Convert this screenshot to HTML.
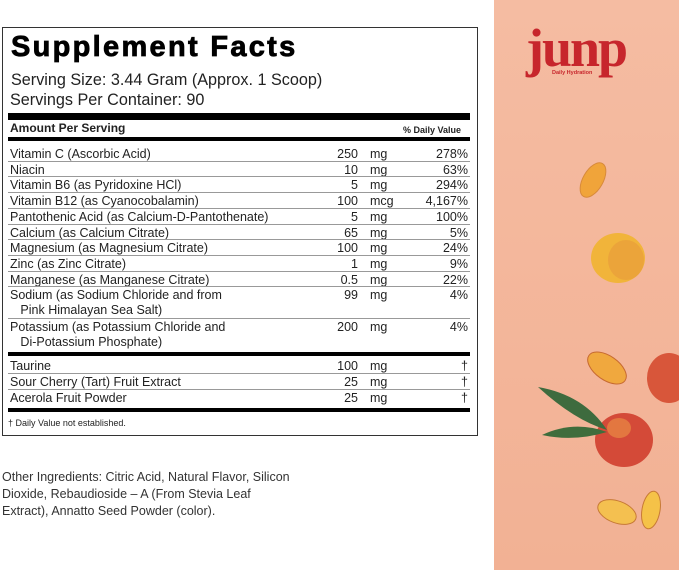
<!DOCTYPE html>
<html><head><style>
body{margin:0;width:679px;height:570px;background:#fff;position:relative;overflow:hidden;font-family:"Liberation Sans",Arial,sans-serif;color:#222}
.a{position:absolute;white-space:nowrap}
.box{position:absolute;left:2px;top:27px;width:474px;height:407px;border:1.5px solid #333}
.bar{position:absolute;left:8px;width:462px;background:#000}
.ln{position:absolute;left:8px;width:462px;height:1px;background:#999}
.r{font-size:12.5px;line-height:15px}
.n{position:absolute;top:0;left:300px;width:48px;text-align:right}
.u{position:absolute;top:0;left:360px}
.p{position:absolute;top:0;right:12px;text-align:right}
</style></head><body>
<div class="box"></div>
<div class="a" style="left:11px;top:31px;font-size:29px;font-weight:900;letter-spacing:2.3px;color:#000;-webkit-text-stroke:0.8px #000">Supplement Facts</div>
<div class="a" style="left:11px;top:71px;font-size:16.2px">Serving Size: 3.44 Gram (Approx. 1 Scoop)</div>
<div class="a" style="left:10px;top:91px;font-size:16.2px">Servings Per Container: 90</div>
<div class="bar" style="top:113px;height:7px"></div>
<div class="a" style="left:10px;top:121px;font-size:12px;font-weight:bold">Amount Per Serving</div>
<div class="a" style="left:403px;top:125px;font-size:9px;font-weight:bold">% Daily Value</div>
<div class="bar" style="top:137px;height:4px"></div>
<div id="rows"></div>
<div class="bar" style="top:352px;height:4px"></div>
<div class="bar" style="top:408px;height:4px"></div>
<div class="a" style="left:8px;top:418px;font-size:9px">† Daily Value not established.</div>
<div class="a" style="left:2px;top:469px;font-size:12.5px;line-height:17px;color:#333">Other Ingredients: Citric Acid, Natural Flavor, Silicon<br>Dioxide, Rebaudioside – A (From Stevia Leaf<br>Extract), Annatto Seed Powder (color).</div>
<svg class="a" style="left:494px;top:0" width="185" height="570">
<defs><linearGradient id="g" x1="0" y1="0" x2="0" y2="1"><stop offset="0" stop-color="#f5bca2"/><stop offset="1" stop-color="#f2b194"/></linearGradient></defs>
<rect width="185" height="570" fill="url(#g)"/>
<text x="32" y="66" font-family="Liberation Serif,serif" font-weight="bold" font-size="54" fill="#c7262c" letter-spacing="-2">junp</text>
<text x="58" y="74" font-family="Liberation Sans,sans-serif" font-weight="bold" font-size="5.5" fill="#c7262c">Daily Hydration</text>
<ellipse cx="99" cy="180" rx="10" ry="19" transform="rotate(30 99 180)" fill="#f0a43a" stroke="#d88a3a"/>
<ellipse cx="124" cy="258" rx="27" ry="25" fill="#f1b43a"/>
<ellipse cx="132" cy="260" rx="18" ry="20" fill="#e79a3a" opacity="0.6"/>
<ellipse cx="113" cy="368" rx="12" ry="22" transform="rotate(-55 113 368)" fill="#f0a83e" stroke="#c76a30"/>
<ellipse cx="175" cy="378" rx="22" ry="25" fill="#d8563a"/>
<ellipse cx="130" cy="440" rx="29" ry="27" fill="#d44a38"/>
<ellipse cx="125" cy="428" rx="12" ry="10" fill="#e98a45" opacity="0.7"/>
<path d="M44 387 Q90 395 113 430 Q80 420 44 387Z" fill="#3e6b3e"/>
<path d="M48 435 Q80 420 113 432 Q80 442 48 435Z" fill="#3f6d3c"/>
<ellipse cx="123" cy="512" rx="11" ry="20" transform="rotate(-70 123 512)" fill="#f4c050" stroke="#c77a35"/>
<ellipse cx="157" cy="510" rx="9" ry="19" transform="rotate(10 157 510)" fill="#f5c248" stroke="#c77a35"/>
</svg>
<script>
var d=[["Vitamin C (Ascorbic Acid)","250","mg","278%"],["Niacin","10","mg","63%"],["Vitamin B6 (as Pyridoxine HCl)","5","mg","294%"],["Vitamin B12 (as Cyanocobalamin)","100","mcg","4,167%"],["Pantothenic Acid (as Calcium-D-Pantothenate)","5","mg","100%"],["Calcium (as Calcium Citrate)","65","mg","5%"],["Magnesium (as Magnesium Citrate)","100","mg","24%"],["Zinc (as Zinc Citrate)","1","mg","9%"],["Manganese (as Manganese Citrate)","0.5","mg","22%"],["Sodium (as Sodium Chloride and from<br>&nbsp;&nbsp;&nbsp;Pink Himalayan Sea Salt)","99","mg","4%"],["Potassium (as Potassium Chloride and<br>&nbsp;&nbsp;&nbsp;Di-Potassium Phosphate)","200","mg","4%"]];
var e=[["Taurine","100","mg","†"],["Sour Cherry (Tart) Fruit Extract","25","mg","†"],["Acerola Fruit Powder","25","mg","†"]];
var h="",y=147;
function row(r){return '<div class="a r" style="left:10px;top:'+y+'px;width:470px">'+r[0]+'<span class="n">'+r[1]+'</span><span class="u">'+r[2]+'</span><span class="p">'+r[3]+'</span></div>';}
d.forEach(function(r,i){var two=r[0].indexOf("<br>")>0;h+=row(r);y+=two?31.5:15.7;if(i<d.length-1)h+='<div class="ln" style="top:'+(y-2)+'px"></div>';});
y=359;
e.forEach(function(r,i){h+=row(r);y+=15.8;if(i<e.length-1)h+='<div class="ln" style="top:'+(y-2)+'px"></div>';});
document.getElementById("rows").innerHTML=h;
</script>
</body></html>
